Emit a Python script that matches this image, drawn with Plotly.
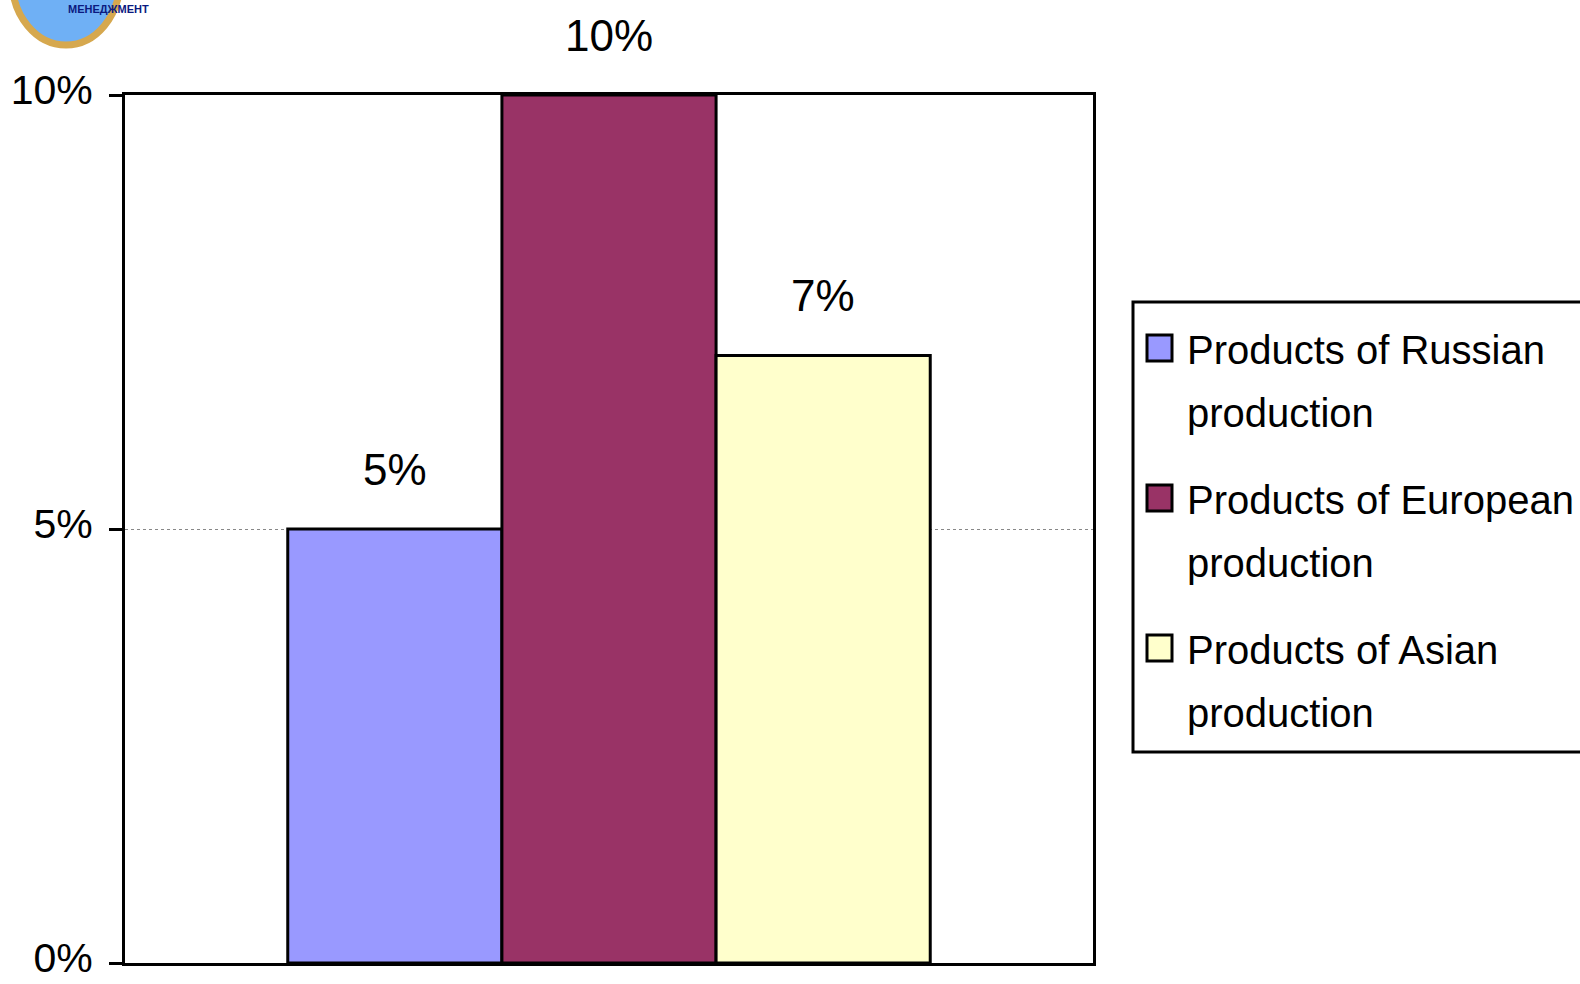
import plotly.graph_objects as go

series = ["Products of Russian<br>production",
          "Products of European<br>production",
          "Products of Asian<br>production"]
values = [5, 10, 7]
labels = ["5%", "10%", "7%"]
colors = ["#9999FF", "#993366", "#FFFFCC"]
positions = [0, 1, 2]
y_ticks = [0, 5, 10]
y_ticktext = ["0%", "5%", "10%"]

FONT = "Liberation Sans, Arial, sans-serif"
W, H = 1580, 984
L, R, T, B = 125, 487, 95, 21
pw, ph = W - L - R, H - T - B


def px(xp):
    return (xp - L) / pw


def py(yp):
    return (H - B - yp) / ph


fig = go.Figure()
for name, v, c, p in zip(series, values, colors, positions):
    fig.add_trace(go.Bar(
        x=[p], y=[v], name=name, width=1, showlegend=False,
        marker=dict(color=c, line=dict(color="black", width=3)),
    ))

# value labels above bars
for v, lab, p in zip(values, labels, positions):
    fig.add_annotation(x=p, y=v, text=lab, showarrow=False,
                       yanchor="bottom", yshift=33,
                       font=dict(family=FONT, size=44, color="black"))

# legend (box, swatches, two-line texts)
fig.add_shape(type="rect", xref="paper", yref="paper",
              x0=px(1133), x1=px(1640), y0=py(752), y1=py(302),
              line=dict(color="black", width=3), fillcolor="white",
              layer="below")
entry_top = 348
entry_step = 150
line_step = 63
for i, (name, c) in enumerate(zip(series, colors)):
    yc = entry_top + i * entry_step
    fig.add_shape(type="rect", xref="paper", yref="paper",
                  x0=px(1147), x1=px(1172), y0=py(yc + 13), y1=py(yc - 13),
                  line=dict(color="black", width=3), fillcolor=c)
    for j, part in enumerate(name.split("<br>")):
        fig.add_annotation(xref="paper", yref="paper",
                           x=px(1185), y=py(yc + j * line_step + 2),
                           xanchor="left", yanchor="middle", text=part,
                           showarrow=False,
                           font=dict(family=FONT, size=40, color="black"))

# decorative emblem (top-left)
fig.add_shape(type="circle", xref="paper", yref="paper",
              x0=px(12), x1=px(120), y0=py(45), y1=py(-85),
              fillcolor="#6fb0f5", line=dict(color="#d6a84e", width=7),
              layer="above")
fig.add_annotation(xref="paper", yref="paper", x=px(66), y=py(1),
                   yanchor="top",
                   text="<b>МЕНЕДЖМЕНТ</b>", showarrow=False,
                   font=dict(family=FONT, size=11, color="#0b1a80"))

fig.update_layout(
    width=W, height=H,
    margin=dict(l=L, r=R, t=T, b=B, autoexpand=False),
    paper_bgcolor="white", plot_bgcolor="white",
    barmode="overlay",
    showlegend=False,
    font=dict(family=FONT, color="black"),
)
fig.update_xaxes(range=[-1.26, 3.26], showticklabels=False, showgrid=False,
                 zeroline=False, showline=True, linecolor="black", linewidth=3,
                 mirror=True, ticks="")
fig.update_yaxes(range=[0, 10], tickvals=y_ticks, ticktext=y_ticktext,
                 showgrid=True, gridcolor="#888888", gridwidth=1, griddash="dot",
                 zeroline=False, showline=True, linecolor="black", linewidth=3,
                 mirror=True, ticks="outside", ticklen=13, tickwidth=3,
                 tickcolor="black", ticklabeloverflow="allow",
                 ticklabelstandoff=8, ticklabelshift=-5, automargin=False,
                 tickfont=dict(family=FONT, size=41, color="black"))

fig.write_html("out.html")
